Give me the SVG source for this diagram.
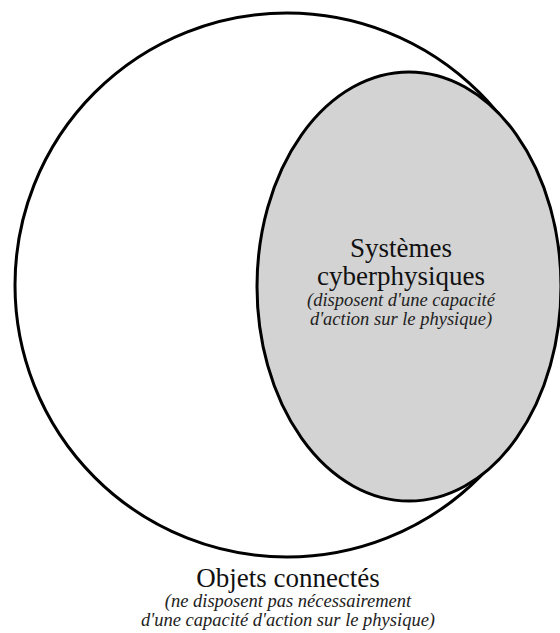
<svg xmlns="http://www.w3.org/2000/svg" width="560" height="633" viewBox="0 0 560 633">
<style>
.shape{stroke:#000;stroke-width:3}
text{font-family:'Liberation Serif','Times New Roman','DejaVu Serif',serif;text-anchor:middle}
.title{font-size:27px;fill:#111}
.note{font-size:18.5px;font-style:italic;fill:#222}
</style>
<rect width="560" height="633" fill="#fff"/>
<g id="objets-connectes">
<circle class="shape" cx="287" cy="285" r="272" fill="#fff"/>
<text class="title" x="288" y="587" font-family="Liberation Serif, serif">Objets connectés</text>
<text class="note" x="288" y="607" font-family="Liberation Serif, serif">(ne disposent pas nécessairement</text>
<text class="note" x="288" y="626" font-family="Liberation Serif, serif">d'une capacité d'action sur le physique)</text>
</g>
<g id="systemes-cyberphysiques">
<ellipse class="shape" cx="409" cy="286.5" rx="152" ry="214.5" fill="#d3d3d3"/>
<text class="title" x="401" y="257" font-family="Liberation Serif, serif">Systèmes</text>
<text class="title" x="401" y="285" font-family="Liberation Serif, serif">cyberphysiques</text>
<text class="note" x="401" y="306" font-family="Liberation Serif, serif">(disposent d'une capacité</text>
<text class="note" x="401" y="325" font-family="Liberation Serif, serif">d'action sur le physique)</text>
</g>
<g id="connectors"/>
</svg>
